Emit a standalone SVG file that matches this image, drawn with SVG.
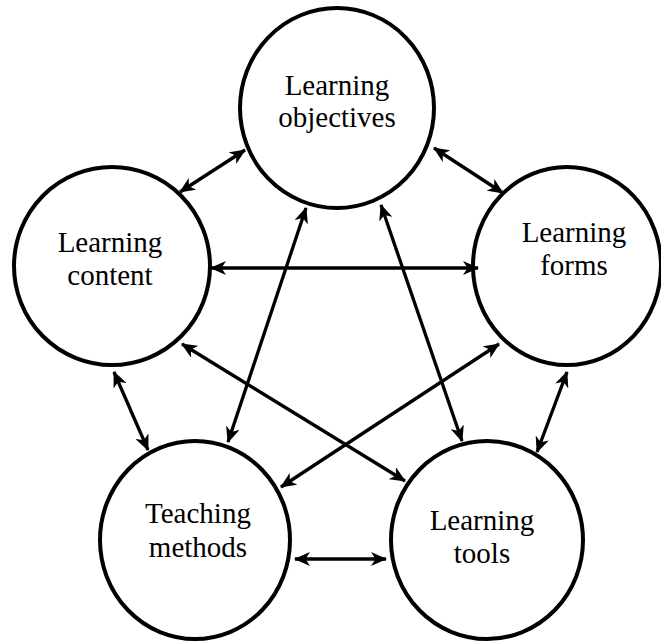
<svg xmlns="http://www.w3.org/2000/svg" width="661" height="641" viewBox="0 0 661 641">
<style>
.node{fill:#fff;stroke:#000;stroke-width:4}
.lbl{font-family:"Liberation Serif","Times New Roman",serif;font-size:29px;fill:#000;text-anchor:middle}
.conn line{stroke:#000;stroke-width:3.3;marker-start:url(#ah);marker-end:url(#ah)}
</style>
<defs>
<marker id="ah" markerUnits="userSpaceOnUse" markerWidth="17" markerHeight="14" viewBox="0 0 17 14" refX="15" refY="7" orient="auto-start-reverse">
<path d="M0,0 L16,7 L0,14 L4.5,7 z" fill="#000"/>
</marker>
</defs>
<rect width="661" height="641" fill="#fff"/>
<g id="n-objectives"><ellipse class="node" cx="337" cy="108" rx="97" ry="100"/><text class="lbl" x="337" y="95">Learning</text><text class="lbl" x="337" y="127">objectives</text></g>
<g id="n-content"><ellipse class="node" cx="112" cy="266" rx="98" ry="99"/><text class="lbl" x="110" y="252">Learning</text><text class="lbl" x="110" y="285">content</text></g>
<g id="n-forms"><ellipse class="node" cx="567" cy="266" rx="94" ry="99"/><text class="lbl" x="574" y="242">Learning</text><text class="lbl" x="574" y="275">forms</text></g>
<g id="n-teaching"><ellipse class="node" cx="195" cy="540" rx="95" ry="99"/><text class="lbl" x="198" y="523">Teaching</text><text class="lbl" x="198" y="557">methods</text></g>
<g id="n-tools"><ellipse class="node" cx="487" cy="540" rx="96" ry="99"/><text class="lbl" x="482" y="530">Learning</text><text class="lbl" x="482" y="563">tools</text></g>
<g id="connectors" class="conn">
<line x1="245" y1="150" x2="180" y2="192"/>
<line x1="434" y1="148" x2="503" y2="193"/>
<line x1="211" y1="268" x2="478" y2="268"/>
<line x1="306" y1="208" x2="228" y2="442"/>
<line x1="381" y1="205" x2="462" y2="441"/>
<line x1="114" y1="372" x2="148" y2="450"/>
<line x1="182" y1="344" x2="405" y2="481"/>
<line x1="499" y1="344" x2="281" y2="487"/>
<line x1="567" y1="372" x2="537" y2="452"/>
<line x1="295" y1="559" x2="386" y2="559"/>
</g>
</svg>
